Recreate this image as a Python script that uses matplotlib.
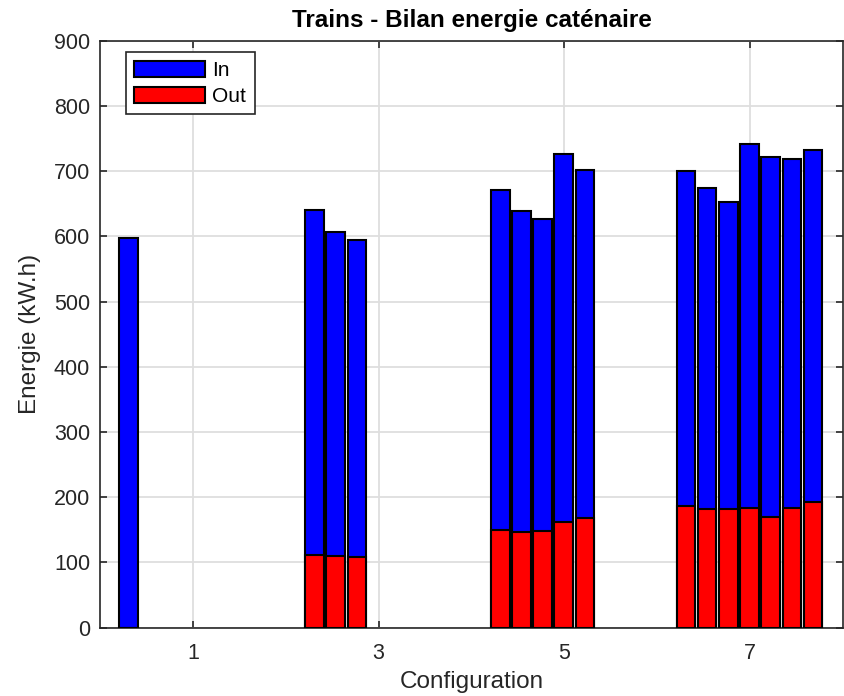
import numpy as np
import matplotlib
matplotlib.use('Agg')
import matplotlib.pyplot as plt

plt.rcParams['font.family'] = ['Liberation Sans', 'DejaVu Sans']

# energy per train run, grouped by configuration (kW.h)
configs = [1, 3, 5, 7]
energy_in = [
    [598],
    [640, 607, 595],
    [671, 639, 626, 727, 702],
    [701, 674, 653, 742, 721, 718, 732],
]
energy_out = [
    [0],
    [112, 110, 109],
    [150, 147, 148, 162, 168],
    [186, 182, 182, 184, 170, 183, 192],
]
legend_labels = ['In', 'Out']

bar_w = 0.2  # width of one bar
step = 0.228  # spacing between bars in a group
start = -0.69  # first bar offset from the configuration tick

axc = '#262626'

fig = plt.figure(figsize=(8.45, 6.96), dpi=100)
ax = fig.add_axes([0.1183, 0.0981, 0.8793, 0.8434])

for n, e_in, e_out in zip(configs, energy_in, energy_out):
    x = n + start + step*np.arange(len(e_in))
    hb = ax.bar(x, e_in, width=bar_w, color='#0000ff', edgecolor='black', linewidth=1.5, zorder=3)
    hr = ax.bar(x, e_out, width=bar_w, color='#ff0000', edgecolor='black', linewidth=1.5, zorder=4)

ax.set_xlim(0, 8)
ax.set_ylim(0, 900)
ax.set_xticks(configs)
ax.set_yticks(np.arange(0, 901, 100))
ax.grid(True, color='#dedede', linewidth=1.3, zorder=0)
ax.set_axisbelow(True)

for s in ax.spines.values():
    s.set_color(axc)
    s.set_linewidth(1.2)
ax.tick_params(direction='in', top=True, right=True, length=5, width=1.2, color=axc,
               labelcolor=axc, labelsize=15.5)
ax.tick_params(axis='x', pad=11)
ax.tick_params(axis='y', pad=7)

ax.set_xlabel('Configuration', fontsize=17.5, color=axc, labelpad=5)
ax.set_ylabel('Energie (kW.h)', fontsize=17.5, color=axc, labelpad=9)
ax.set_title('Trains - Bilan energie caténaire', fontsize=17.5, fontweight='bold', pad=10)

leg = ax.legend([hb, hr], legend_labels, loc='upper left', bbox_to_anchor=(0.035, 0.98),
                borderaxespad=0, fontsize=15, handlelength=3.4, handleheight=0.85,
                handletextpad=0.35, labelspacing=0.3, borderpad=0.4, fancybox=False,
                framealpha=1, edgecolor=axc)
leg.get_frame().set_linewidth(1.2)

fig.savefig('out.png', dpi=100)
